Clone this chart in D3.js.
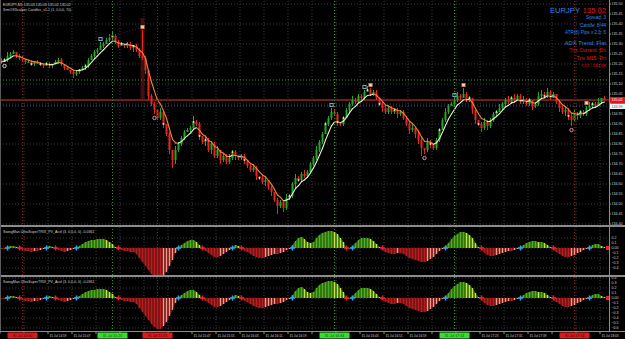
<!DOCTYPE html>
<html>
<head>
<meta charset="utf-8">
<script src="https://cdn.jsdelivr.net/npm/d3@7/dist/d3.min.js"></script>
<style>
  body { margin: 0; background: #000; }
  svg { display: block; font-family: "Liberation Sans", Arial, sans-serif; }
</style>
</head>
<body>
<div id="chart"></div>
<script>
// EURJPY M1, 31 Jul, one bar per minute from 14:43
const firstOpen = 135.22;
const closes = [
  135.21,135.22,135.24,135.25,135.26,135.24,135.23,135.22,135.21,135.21,
  135.20,135.21,135.20,135.20,135.19,135.20,135.19,135.20,135.21,135.22,
  135.20,135.18,135.17,135.16,135.15,135.16,135.17,135.18,135.19,135.22,
  135.24,135.26,135.27,135.29,135.30,135.32,135.33,135.34,135.31,135.29,
  135.30,135.29,135.30,135.28,135.29,135.27,135.24,135.23,135.17,135.04,
  135.00,134.97,134.93,134.96,134.90,134.85,134.77,134.72,134.77,134.80,
  134.83,134.86,134.87,134.88,134.91,134.90,134.84,134.81,134.82,134.77,
  134.80,134.74,134.77,134.72,134.74,134.71,134.73,134.76,134.74,134.73,
  134.74,134.72,134.69,134.67,134.68,134.64,134.63,134.61,134.62,134.58,
  134.56,134.52,134.49,134.51,134.48,134.53,134.54,134.60,134.63,134.62,
  134.65,134.64,134.66,134.70,134.73,134.77,134.81,134.85,134.90,134.93,
  134.96,134.95,134.91,134.90,134.93,134.97,135.00,135.02,135.01,135.04,
  135.03,135.06,135.07,135.05,135.06,135.03,135.00,134.98,134.96,134.98,
  134.96,134.97,134.95,134.96,134.93,134.90,134.87,134.88,134.85,134.82,
  134.78,134.77,134.81,134.80,134.78,134.82,134.87,134.92,134.96,134.99,
  135.00,135.02,135.04,135.03,135.05,135.02,135.03,134.97,134.92,134.90,
  134.88,134.91,134.89,134.92,134.95,134.96,134.98,135.00,135.02,135.01,
  135.03,135.02,135.04,135.01,135.02,135.00,135.02,134.99,135.00,135.04,
  135.05,135.04,135.06,135.03,135.05,135.01,134.98,134.96,134.97,134.94,
  134.92,134.95,134.94,134.96,134.95,134.98,134.99,135.00,134.99,135.01,
  135.03,135.02
];
// wick lengths in pips beyond the body
const wickUp = [
  1,1,2,1,1,0,1,1,0,1, 1,0,1,1,0,1,1,0,1,1, 1,0,1,0,1,1,0,1,1,1, 1,1,1,2,1,1,2,2,1,1,
  1,0,1,1,0,1,1,13,1,0, 1,1,0,2,1,0,1,0,2,1, 1,1,1,1,3,1,1,0,2,1, 1,1,2,0,1,1,2,1,1,0,
  1,1,0,1,2,1,0,1,1,0, 1,0,1,1,0,2,1,1,2,1, 1,2,1,1,1,2,1,1,1,1, 2,1,1,0,1,1,1,2,1,1,
  1,1,2,1,1,1,0,1,1,1, 1,0,1,1,1,0,1,2,0,1, 1,0,2,1,0,1,1,1,2,1, 1,1,2,1,3,1,1,0,1,0,
  1,2,1,1,1,1,2,1,1,2, 1,2,1,1,2,1,1,0,1,2, 2,1,2,1,1,0,1,1,2,1, 1,2,1,1,1,1,2,1,1,2,
  0,1
];
const wickDn = [
  1,0,1,1,0,1,1,1,1,0, 1,1,0,1,1,0,1,1,0,1, 1,1,0,1,2,1,1,0,1,1, 0,1,1,0,1,0,1,1,1,1,
  0,1,1,1,2,1,1,1,2,2, 1,2,1,1,2,1,2,4,2,1, 1,1,0,1,1,1,2,1,2,1, 2,1,1,2,1,1,1,1,2,1,
  1,2,1,1,1,2,1,1,2,1, 2,1,4,1,2,1,1,1,2,1, 1,1,1,0,1,1,1,1,0,1, 1,1,2,1,1,0,1,1,1,0,
  1,1,0,1,1,1,1,2,1,1, 1,1,2,1,1,1,2,1,2,2, 4,2,1,2,1,1,1,0,1,1, 0,1,1,1,0,1,1,2,2,1,
  2,1,2,1,1,1,0,1,1,1, 1,1,0,1,1,1,1,2,1,1, 1,1,1,1,0,1,2,1,2,2, 3,1,2,1,1,1,1,1,1,0,
  1,0
];
// SwingMan UltraSuperTRIX_PV_Acel histogram
const trix = [
  -0.02,-0.02,0.02,0.04,0.04,0.02,-0.02,-0.04,-0.06,-0.06,
  -0.08,-0.06,-0.06,-0.04,-0.02,0.02,0.04,0.02,-0.02,-0.04,
  -0.06,-0.08,-0.06,-0.04,-0.02,0.02,0.04,0.08,0.12,0.14,
  0.16,0.16,0.18,0.18,0.18,0.16,0.12,0.08,0.02,-0.02,
  -0.04,-0.06,-0.06,-0.08,-0.08,-0.12,-0.20,-0.28,-0.36,-0.44,
  -0.52,-0.58,-0.62,-0.62,-0.56,-0.48,-0.36,-0.24,-0.10,0.02,
  0.06,0.10,0.14,0.16,0.16,0.12,0.06,-0.02,-0.06,-0.10,
  -0.14,-0.18,-0.18,-0.16,-0.12,-0.08,-0.04,0.02,0.06,0.04,
  -0.02,-0.06,-0.08,-0.12,-0.16,-0.18,-0.20,-0.20,-0.18,-0.16,
  -0.14,-0.12,-0.12,-0.10,-0.08,-0.04,-0.02,0.06,0.14,0.20,
  0.22,0.18,0.12,0.10,0.12,0.20,0.26,0.30,0.32,0.34,
  0.34,0.32,0.28,0.20,0.12,-0.02,-0.02,0.04,0.10,0.16,
  0.20,0.20,0.20,0.18,0.14,0.08,0.02,-0.04,-0.08,-0.10,
  -0.12,-0.12,-0.10,-0.10,-0.12,-0.16,-0.20,-0.22,-0.24,-0.26,
  -0.28,-0.28,-0.26,-0.22,-0.18,-0.12,-0.06,-0.02,0.04,0.10,
  0.18,0.24,0.28,0.32,0.32,0.30,0.26,0.20,0.10,0.02,
  -0.04,-0.10,-0.14,-0.16,-0.16,-0.14,-0.12,-0.10,-0.08,-0.06,
  -0.06,-0.04,-0.02,0.02,0.06,0.10,0.12,0.14,0.14,0.12,
  0.12,0.10,0.06,0.02,-0.04,-0.08,-0.12,-0.16,-0.18,-0.18,
  -0.16,-0.14,-0.10,-0.08,-0.04,-0.02,0.02,0.06,0.08,0.08,
  0.04,0.02
];

const priceLabels = [135.50,135.45,135.40,135.35,135.30,135.25,135.20,135.15,135.10,135.05,135.00,
  134.95,134.90,134.85,134.80,134.75,134.70,134.65,134.60,134.55,134.50,134.45,134.40];
const timeLabels = ["31 Jul 14:43","31 Jul 14:51","31 Jul 14:59","31 Jul 15:07","31 Jul 15:15","31 Jul 15:23",
  "31 Jul 15:31","31 Jul 15:39","31 Jul 15:47","31 Jul 15:55","31 Jul 16:03","31 Jul 16:11","31 Jul 16:19",
  "31 Jul 16:27","31 Jul 16:35","31 Jul 16:43","31 Jul 16:51","31 Jul 16:59","31 Jul 17:07","31 Jul 17:15",
  "31 Jul 17:23","31 Jul 17:31","31 Jul 17:39","31 Jul 17:47","31 Jul 17:55","31 Jul 18:03"];
const subLabels1 = [0.2, 0.1, 0, -0.1, -0.2, -0.3, -0.4];
const subLabels2 = [0.4, 0.3, 0.2, 0.1, 0, -0.1, -0.2, -0.3, -0.4, -0.5, -0.6];

const vlineBars = [7, 37, 52, 111, 151, 191];
const vlineKinds = ["sell", "buy", "sell", "buy", "buy", "sell"];
const vlineTexts = ["31 Jul 14:50", "31 Jul 15:20", "31 Jul 15:35", "31 Jul 16:34", "31 Jul 17:14", "31 Jul 17:54"];
const hlinePrices = [135.12, 135.02, 134.99];
const hlineKinds = ["green", "red", "blue"];
const swingBars = [1, 33, 47, 51, 110, 121, 123, 141, 151, 154, 190, 195];
const swingKinds = ["loW", "hiB", "hiA", "loP", "hiB", "hiB", "hiA", "loP", "hiB", "hiA", "loP", "hiA"];
const dotBars = [1,10,13,15,26,28,37,40,44,54,64,66,68,77,81,86,96,99,108,112,114,122,126,131,143,146,156,159,165,170,176,181,189,193,197];
const lastPrice = 135.02;
const linePrice = 134.99;

const W = 625, H = 339;
const plotRight = 609;
const n = closes.length;

const svg = d3.select("#chart").append("svg")
  .attr("width", W).attr("height", H)
  .style("background", "#000");

const x = d3.scaleLinear().domain([-0.5, n - 0.5]).range([0, 606]);
const y = d3.scaleLinear().domain([134.40, 135.50]).range([224, 4]);

const panels = [
  { top: 1, bottom: 225 },
  { top: 227, bottom: 275, zero: 248, labels: subLabels1 },
  { top: 277, bottom: 331, zero: 298, labels: subLabels2 }
];

const defs = svg.append("defs");
panels.forEach((p, k) => {
  defs.append("clipPath").attr("id", "clip" + k)
    .append("rect").attr("x", 0).attr("y", p.top).attr("width", plotRight).attr("height", p.bottom - p.top);
});

const gridColor = "#3c3c3c";
const tickIdx = timeLabels.map((d, k) => k * 8);

// vertical grid in all panels
panels.forEach(p => {
  svg.append("g").selectAll("line").data(tickIdx).join("line")
    .attr("x1", i => x(i - 0.5)).attr("x2", i => x(i - 0.5))
    .attr("y1", p.top).attr("y2", p.bottom)
    .attr("stroke", gridColor).attr("stroke-dasharray", "1,2");
});

// ---------- main window ----------
const mainG = svg.append("g").attr("clip-path", "url(#clip0)");

mainG.append("g").selectAll("line").data(priceLabels.filter((d, i) => i % 2 === 0)).join("line")
  .attr("x1", 0).attr("x2", plotRight)
  .attr("y1", d => y(d)).attr("y2", d => y(d))
  .attr("stroke", gridColor).attr("stroke-dasharray", "1,2");

// vertical line objects
const vColor = { sell: "#8a1c1c", buy: "#2f9a2f" };
svg.append("g").selectAll("line").data(vlineBars).join("line")
  .attr("x1", i => x(i)).attr("x2", i => x(i))
  .attr("y1", 1).attr("y2", 331)
  .attr("stroke", (d, k) => vColor[vlineKinds[k]])
  .attr("stroke-dasharray", "1,2");

// dark highlight band on the spike bar
mainG.append("rect")
  .attr("x", x(47) - 2).attr("width", 4)
  .attr("y", y(135.43)).attr("height", y(135.02) - y(135.43))
  .attr("fill", "#3e1010");

// horizontal line objects
const hStyle = {
  green: { c: "#2f9a2f", w: 1, dash: "1,2" },
  red: { c: "#6e1c1c", w: 2.2, dash: null },
  blue: { c: "#2f5fa8", w: 1, dash: "1,2" }
};
mainG.append("g").selectAll("line").data(hlinePrices).join("line")
  .attr("x1", 0).attr("x2", plotRight)
  .attr("y1", d => y(d)).attr("y2", d => y(d))
  .attr("stroke", (d, k) => hStyle[hlineKinds[k]].c)
  .attr("stroke-width", (d, k) => hStyle[hlineKinds[k]].w)
  .attr("stroke-dasharray", (d, k) => hStyle[hlineKinds[k]].dash);

// candles
const bars = closes.map((c, i) => {
  const o = i === 0 ? firstOpen : closes[i - 1];
  return { i, o, c, h: Math.max(o, c) + wickUp[i] * 0.01, l: Math.min(o, c) - wickDn[i] * 0.01 };
});
const upCol = "#27a527", dnCol = "#e8261e";
const candleG = mainG.append("g");
candleG.selectAll("line").data(bars).join("line")
  .attr("x1", d => x(d.i)).attr("x2", d => x(d.i))
  .attr("y1", d => y(d.h)).attr("y2", d => y(d.l))
  .attr("stroke", d => d.c >= d.o ? upCol : dnCol).attr("stroke-width", 1);
candleG.selectAll("rect").data(bars).join("rect")
  .attr("x", d => x(d.i) - 1).attr("width", 2)
  .attr("y", d => y(Math.max(d.o, d.c)))
  .attr("height", d => Math.max(1, Math.abs(y(d.o) - y(d.c))))
  .attr("fill", d => d.c >= d.o ? upCol : dnCol);

// moving average coloured by slope
const ma = [];
closes.forEach((c, i) => ma.push(i === 0 ? c : ma[i - 1] + (c - ma[i - 1]) / 3));
mainG.append("g").selectAll("line").data(d3.range(1, n)).join("line")
  .attr("x1", i => x(i - 1)).attr("y1", i => y(ma[i - 1]))
  .attr("x2", i => x(i)).attr("y2", i => y(ma[i]))
  .attr("stroke", i => ma[i] >= ma[i - 1] ? "#e2f0d2" : "#f0853a")
  .attr("stroke-width", 1.1).attr("stroke-linecap", "round");

// signal dots
mainG.append("g").selectAll("rect").data(dotBars).join("rect")
  .attr("x", i => x(i) - 0.8).attr("y", i => y(closes[i]) - 0.8)
  .attr("width", 1.6).attr("height", 1.6)
  .attr("fill", "#f6eec8");

// swing link and markers
mainG.append("line")
  .attr("x1", x(33)).attr("y1", y(bars[33].h) - 3)
  .attr("x2", x(47)).attr("y2", y(bars[47].h) - 3)
  .attr("stroke", "#28348e").attr("stroke-dasharray", "1,2");
const swingStyle = {
  hiA: { fill: "#f2dcb8", stroke: "#c98a4a", shape: "sq" },
  hiB: { fill: "none", stroke: "#8fc6f2", shape: "sq" },
  loP: { fill: "none", stroke: "#f0a0c0", shape: "ci" },
  loW: { fill: "none", stroke: "#e8e8e8", shape: "ci" }
};
swingBars.forEach((i, k) => {
  const s = swingStyle[swingKinds[k]];
  const top = swingKinds[k].startsWith("hi");
  const cy = top ? y(bars[i].h) - 3 : y(bars[i].l) + 4;
  if (s.shape === "sq") {
    mainG.append("rect").attr("x", x(i) - 1.6).attr("y", cy - 1.6).attr("width", 3.2).attr("height", 3.2)
      .attr("fill", s.fill).attr("stroke", s.stroke).attr("stroke-width", 0.8);
  } else {
    mainG.append("circle").attr("cx", x(i)).attr("cy", cy).attr("r", 1.7)
      .attr("fill", s.fill).attr("stroke", s.stroke).attr("stroke-width", 0.9);
  }
});

// chart headers
svg.append("text").attr("x", 3).attr("y", 5.5)
  .attr("font-size", 3.6).attr("fill", "#cfcfcf")
  .text("EURJPY,M1  135.03 135.03 135.02 135.02");
svg.append("text").attr("x", 3).attr("y", 10.5)
  .attr("font-size", 3.6).attr("fill", "#cfcfcf")
  .text("SrmOKScalper Candles_v1.1 (1, 0,0,0, 70)");

// info block
const blue = "#2f86e0", red = "#e0161e";
const info = svg.append("g").attr("text-anchor", "end");
info.append("text").attr("x", 580).attr("y", 12.5).attr("font-size", 7.6).attr("fill", blue).text("EURJPY");
info.append("text").attr("x", 606).attr("y", 12.5).attr("font-size", 7.6).attr("fill", red).text("135.02");
info.append("text").attr("x", 606).attr("y", 19).attr("font-size", 4.6).attr("fill", blue).text("Spread:  3");
info.append("text").attr("x", 606).attr("y", 26.5).attr("font-size", 4.6).attr("fill", blue).text("Candle:  8:44");
info.append("text").attr("x", 606).attr("y", 34).attr("font-size", 4.6).attr("fill", blue).text("ATR(8) Pips x 2.0:  6");
info.append("text").attr("x", 606).attr("y", 45).attr("font-size", 5.8).attr("fill", blue).text("ADX Trend: Flat");
info.append("text").attr("x", 606).attr("y", 52.3).attr("font-size", 5.2).attr("fill", red).text("Trix Current:  Dn");
info.append("text").attr("x", 606).attr("y", 59.6).attr("font-size", 5.2).attr("fill", red).text("Trix M15:  Dn");
info.append("text").attr("x", 606).attr("y", 66.5).attr("font-size", 4.4).attr("fill", red).text("CCI:  -134.68");

// ---------- indicator windows ----------
panels.slice(1).forEach((p, k) => {
  const ys = d3.scaleLinear().domain([-1, 1]).range([p.zero + 50, p.zero - 50]);
  const g = svg.append("g").attr("clip-path", `url(#clip${k + 1})`);

  g.append("g").selectAll("line").data(p.labels.filter(v => Math.round(v * 10) % 2 === 0)).join("line")
    .attr("x1", 0).attr("x2", plotRight)
    .attr("y1", v => ys(v)).attr("y2", v => ys(v))
    .attr("stroke", gridColor).attr("stroke-dasharray", "1,2");

  const areaPos = d3.area().x((d, i) => x(i)).y0(ys(0)).y1(d => ys(Math.max(0, d))).curve(d3.curveMonotoneX);
  const areaNeg = d3.area().x((d, i) => x(i)).y0(ys(0)).y1(d => ys(Math.min(0, d))).curve(d3.curveMonotoneX);
  g.append("path").datum(trix).attr("d", areaPos).attr("fill", "#2c6a10");
  g.append("path").datum(trix).attr("d", areaNeg).attr("fill", "#741212");

  g.selectAll("rect.h").data(trix).join("rect").attr("class", "h")
    .attr("x", (d, i) => x(i) - 0.7).attr("width", 1.4)
    .attr("y", d => ys(Math.max(0, d)))
    .attr("height", d => Math.abs(ys(d) - ys(0)))
    .attr("fill", (d, i) => {
      const prev = i ? trix[i - 1] : d;
      if (d >= 0) return d >= prev ? "#4fae1e" : "#c8e43c";
      return d <= prev ? "#b81e1e" : "#f09a8c";
    });

  const crosses = d3.range(1, n).filter(i => (trix[i] >= 0) !== (trix[i - 1] >= 0));
  g.selectAll("path.x").data(crosses).join("path").attr("class", "x")
    .attr("d", i => `M${x(i) - 2.6},${ys(0)}H${x(i) + 2.6}M${x(i)},${ys(0) - 2.6}V${ys(0) + 2.6}`)
    .attr("stroke", i => trix[i] >= 0 ? "#2aa8ea" : "#e4262a")
    .attr("stroke-width", 1.5);

  svg.append("text").attr("x", 3).attr("y", p.top + 5.5)
    .attr("font-size", 3.6).attr("fill", "#cfcfcf")
    .text("SwingMan UltraSuperTRIX_PV_Acel (3, 0,0,0, 0) -0.0361");

  // right scale
  svg.append("g").selectAll("text").data(p.labels).join("text")
    .attr("x", 611.5).attr("y", v => ys(v) + 1.3)
    .attr("font-size", 3.6).attr("fill", "#cfcfcf")
    .text(v => v === 0 ? "0.00" : d3.format(".1f")(v));
  svg.append("rect").attr("x", 606).attr("y", ys(0) - 2).attr("width", 4).attr("height", 4).attr("fill", "#e4262a");
});

// ---------- frames ----------
svg.append("line").attr("x1", 0).attr("x2", W).attr("y1", 226).attr("y2", 226).attr("stroke", "#8c8c8c").attr("stroke-width", 2);
svg.append("line").attr("x1", 0).attr("x2", W).attr("y1", 276).attr("y2", 276).attr("stroke", "#8c8c8c").attr("stroke-width", 2);
svg.append("line").attr("x1", 0).attr("x2", W).attr("y1", 331.5).attr("y2", 331.5).attr("stroke", "#8c8c8c");
svg.append("line").attr("x1", plotRight + 0.5).attr("x2", plotRight + 0.5).attr("y1", 0).attr("y2", 331).attr("stroke", "#8c8c8c");
svg.append("line").attr("x1", 0.5).attr("x2", 0.5).attr("y1", 0).attr("y2", 331).attr("stroke", "#5a5a5a");

// price scale; labels hidden under the two price boxes, as in the terminal
const boxYs = [y(lastPrice), y(linePrice)];
const pAxis = svg.append("g");
pAxis.selectAll("text").data(priceLabels.filter(d => boxYs.every(b => Math.abs(y(d) - b) > 5))).join("text")
  .attr("x", 611.5).attr("y", d => y(d) + 1.3)
  .attr("font-size", 3.6).attr("fill", "#cfcfcf")
  .text(d => d.toFixed(2));
pAxis.selectAll("line").data(priceLabels).join("line")
  .attr("x1", plotRight).attr("x2", plotRight + 2)
  .attr("y1", d => y(d)).attr("y2", d => y(d)).attr("stroke", "#8c8c8c");

pAxis.append("rect").attr("x", plotRight + 1).attr("y", y(lastPrice) - 3).attr("width", 15).attr("height", 6).attr("fill", "#e0161e");
pAxis.append("text").attr("x", 611.5).attr("y", y(lastPrice) + 1.3).attr("font-size", 3.6).attr("fill", "#fff").text(lastPrice.toFixed(2));
pAxis.append("rect").attr("x", plotRight + 1).attr("y", y(linePrice) - 2.5).attr("width", 15).attr("height", 5.5).attr("fill", "#f4f4f4");
pAxis.append("text").attr("x", 611.5).attr("y", y(linePrice) + 1.5).attr("font-size", 3.6).attr("fill", "#2f5fa8").text(linePrice.toFixed(2));

// time scale; labels covered by the line-object boxes are not drawn
const labelW = 17, boxW = 30;
const covered = k => {
  const a = x(tickIdx[k] - 0.5) + 1.5, b = a + labelW;
  return vlineBars.some(i => b > x(i) - boxW / 2 && a < x(i) + boxW / 2);
};
const tAxis = svg.append("g");
tAxis.selectAll("line").data(tickIdx).join("line")
  .attr("x1", i => x(i - 0.5)).attr("x2", i => x(i - 0.5))
  .attr("y1", 331).attr("y2", 334).attr("stroke", "#8c8c8c");
tAxis.selectAll("text").data(timeLabels.map((t, k) => k).filter(k => !covered(k))).join("text")
  .attr("x", k => x(tickIdx[k] - 0.5) + 1.5).attr("y", 337)
  .attr("font-size", 3.6).attr("fill", "#cfcfcf")
  .attr("textLength", labelW).attr("lengthAdjust", "spacingAndGlyphs")
  .text(k => timeLabels[k]);

const boxFill = { sell: "#e01818", buy: "#36e02a" };
const boxText = { sell: "#4a0000", buy: "#0c4a0c" };
vlineBars.forEach((i, k) => {
  tAxis.append("rect").attr("x", x(i) - boxW / 2).attr("y", 332.5).attr("width", boxW).attr("height", 6)
    .attr("fill", boxFill[vlineKinds[k]]);
  tAxis.append("text").attr("x", x(i)).attr("y", 337).attr("text-anchor", "middle")
    .attr("font-size", 3.6).attr("fill", boxText[vlineKinds[k]]).text(vlineTexts[k]);
});
</script>
</body>
</html>
